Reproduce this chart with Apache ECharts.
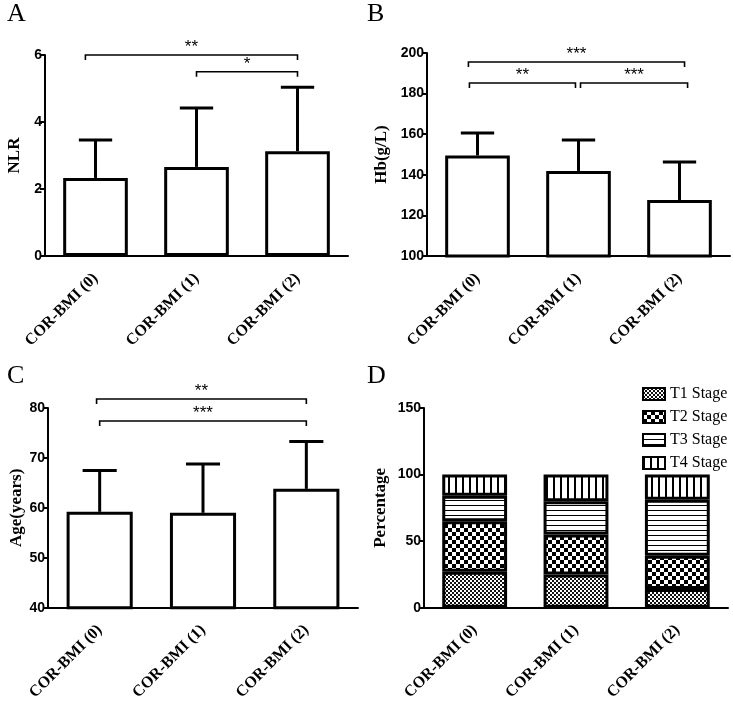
<!DOCTYPE html>
<html>
<head>
<meta charset="utf-8">
<script src="https://cdn.jsdelivr.net/npm/echarts@6/dist/echarts.min.js"></script>
<style>
  html, body { margin: 0; padding: 0; background: #fff; }
  #chart { width: 733px; height: 703px; }
</style>
</head>
<body>
<div id="chart"></div>
<script>
// ---------- data ----------
const categories = ['COR-BMI (0)', 'COR-BMI (1)', 'COR-BMI (2)'];

const nlrMean = [2.33, 2.66, 3.13];
const nlrSD   = [1.13, 1.76, 1.91];

const hbMean = [149.5, 141.9, 127.6];
const hbSD   = [11.1, 15.2, 18.7];

const ageMean = [59.2, 59.0, 63.8];
const ageSD   = [8.3, 9.8, 9.5];

const stageNames = ['T1 Stage', 'T2 Stage', 'T3 Stage', 'T4 Stage'];
const t1Stage = [27, 25, 14];
const t2Stage = [38, 30, 25];
const t3Stage = [19, 25, 42];
const t4Stage = [16, 20, 19];

// significance brackets: [from category, to category, height]
const bracketsA = [[-0.1, 2, 6.0], [1, 2, 5.5]];
const starsA = ['**', '*'];
const bracketsB = [[-0.09, 2.05, 195.6], [-0.08, 0.97, 185.2], [1.02, 2.08, 185.2]];
const starsB = ['***', '**', '***'];
const bracketsC = [[-0.03, 2, 81.8], [0, 2, 77.4]];
const starsC = ['**', '***'];

const panelLetters = ['A', 'B', 'C', 'D'];

// ---------- patterns ----------
function makePattern(kind) {
  const c = document.createElement('canvas');
  const ctx = c.getContext('2d');
  if (kind === 'fine') {
    c.width = 4; c.height = 4;
    ctx.fillStyle = '#fff'; ctx.fillRect(0, 0, 4, 4);
    ctx.fillStyle = '#111';
    ctx.fillRect(0, 0, 2, 2); ctx.fillRect(2, 2, 2, 2);
  } else if (kind === 'coarse') {
    c.width = 8; c.height = 8;
    ctx.fillStyle = '#fff'; ctx.fillRect(0, 0, 8, 8);
    ctx.fillStyle = '#000';
    ctx.fillRect(0, 0, 4, 4); ctx.fillRect(4, 4, 4, 4);
  } else if (kind === 'hlines') {
    c.width = 4; c.height = 5;
    ctx.fillStyle = '#fff'; ctx.fillRect(0, 0, 4, 5);
    ctx.fillStyle = '#000'; ctx.fillRect(0, 0, 4, 1);
  } else {
    c.width = 7; c.height = 4;
    ctx.fillStyle = '#fff'; ctx.fillRect(0, 0, 7, 4);
    ctx.fillStyle = '#000'; ctx.fillRect(0, 0, 2, 4);
  }
  return { image: c, repeat: 'repeat' };
}
const patterns = [makePattern('fine'), makePattern('coarse'), makePattern('hlines'), makePattern('vlines')];

// ---------- helpers ----------
const SERIF = 'Liberation Serif';
const SANS = 'Liberation Sans';

const grids = [
  { left: 45, top: 55, width: 303, height: 201 },
  { left: 427, top: 53, width: 303, height: 203 },
  { left: 48, top: 408, width: 310, height: 201 },
  { left: 424, top: 408, width: 304, height: 201 }
];

function xAxisFor(i) {
  return {
    type: 'category', gridIndex: i, data: categories,
    axisLine: { lineStyle: { color: '#000', width: 2 } },
    axisTick: { alignWithLabel: true, length: 5, lineStyle: { color: '#000', width: 2 } },
    axisLabel: { rotate: 45, margin: 20, color: '#000', fontFamily: SERIF, fontWeight: 'bold', fontSize: 16, interval: 0 }
  };
}
function yAxisFor(i, name, min, max, interval, nameGap) {
  return {
    type: 'value', gridIndex: i, min: min, max: max, interval: interval,
    name: name, nameLocation: 'middle', nameGap: nameGap,
    nameTextStyle: { color: '#000', fontFamily: SERIF, fontWeight: 'bold', fontSize: 17 },
    axisLine: { show: true, lineStyle: { color: '#000', width: 2 } },
    axisTick: { show: true, length: 5, lineStyle: { color: '#000', width: 2 } },
    axisLabel: { color: '#000', fontFamily: SANS, fontWeight: 'bold', fontSize: 14, margin: 3 },
    splitLine: { show: false }
  };
}
function barSeries(i, means) {
  return {
    type: 'bar', xAxisIndex: i, yAxisIndex: i, data: means, barWidth: '64%',
    itemStyle: { color: '#fff', borderColor: '#000', borderWidth: 3 },
    silent: true
  };
}
function errSeries(i, means, sds) {
  return {
    type: 'custom', xAxisIndex: i, yAxisIndex: i,
    data: means.map((m, k) => [k, m, m + sds[k]]),
    encode: { x: 0, y: [1, 2] },
    z: 3, silent: true,
    renderItem: function (params, api) {
      const k = params.dataIndex;
      const p0 = api.coord([k, means[k]]);
      const p1 = api.coord([k, means[k] + sds[k]]);
      const half = api.size([1, 0])[0] * 0.165;
      return {
        type: 'group', children: [
          { type: 'line', shape: { x1: p0[0], y1: p0[1], x2: p1[0], y2: p1[1] }, style: { stroke: '#000', lineWidth: 3 } },
          { type: 'line', shape: { x1: p1[0] - half, y1: p1[1], x2: p1[0] + half, y2: p1[1] }, style: { stroke: '#000', lineWidth: 3 } }
        ]
      };
    }
  };
}
function bracketSeries(i, brackets, stars) {
  return {
    type: 'custom', xAxisIndex: i, yAxisIndex: i,
    data: brackets.map(b => [0, b[2]]),
    encode: { x: 0, y: 1 },
    z: 4, silent: true, clip: false,
    renderItem: function (params, api) {
      const b = brackets[params.dataIndex];
      const bw = api.size([1, 0])[0];
      const base = api.coord([0, b[2]]);
      const x1 = base[0] + b[0] * bw;
      const x2 = base[0] + b[1] * bw;
      const y = base[1];
      return {
        type: 'group', children: [
          { type: 'polyline', shape: { points: [[x1, y + 5], [x1, y], [x2, y], [x2, y + 5]] }, style: { stroke: '#000', lineWidth: 1.6, fill: null } },
          { type: 'text', x: (x1 + x2) / 2, y: y + 1, style: { text: stars[params.dataIndex], align: 'center', verticalAlign: 'bottom', fontFamily: SANS, fontSize: 17, fill: '#000' } }
        ]
      };
    }
  };
}
function stackSeries(k, values) {
  return {
    type: 'bar', name: stageNames[k], xAxisIndex: 3, yAxisIndex: 3, stack: 'stage',
    data: values, barWidth: '64%',
    itemStyle: { color: patterns[k], borderColor: '#000', borderWidth: 3 },
    silent: true
  };
}

const titlePos = [[2, -4], [362, -4], [2, 358], [362, 358]];

const option = {
  animation: false,
  backgroundColor: '#fff',
  title: panelLetters.map((t, i) => ({
    text: t, left: titlePos[i][0], top: titlePos[i][1],
    textStyle: { fontFamily: SERIF, fontWeight: 'normal', fontSize: 26, color: '#000' }
  })),
  legend: {
    data: stageNames, orient: 'vertical', left: 637, top: 381,
    itemWidth: 22, itemHeight: 12, itemGap: 7, icon: 'rect',
    textStyle: { fontFamily: SERIF, fontSize: 16, color: '#000' },
    selectedMode: false
  },
  grid: grids,
  xAxis: [xAxisFor(0), xAxisFor(1), xAxisFor(2), xAxisFor(3)],
  yAxis: [
    yAxisFor(0, 'NLR', 0, 6, 2, 22),
    yAxisFor(1, 'Hb(g/L)', 100, 200, 20, 37),
    yAxisFor(2, 'Age(years)', 40, 80, 10, 22),
    yAxisFor(3, 'Percentage', 0, 150, 50, 35)
  ],
  series: [
    barSeries(0, nlrMean), errSeries(0, nlrMean, nlrSD), bracketSeries(0, bracketsA, starsA),
    barSeries(1, hbMean), errSeries(1, hbMean, hbSD), bracketSeries(1, bracketsB, starsB),
    barSeries(2, ageMean), errSeries(2, ageMean, ageSD), bracketSeries(2, bracketsC, starsC),
    stackSeries(0, t1Stage), stackSeries(1, t2Stage), stackSeries(2, t3Stage), stackSeries(3, t4Stage)
  ]
};

const chart = echarts.init(document.getElementById('chart'), null, { renderer: 'canvas' });
chart.setOption(option);
</script>
</body>
</html>
